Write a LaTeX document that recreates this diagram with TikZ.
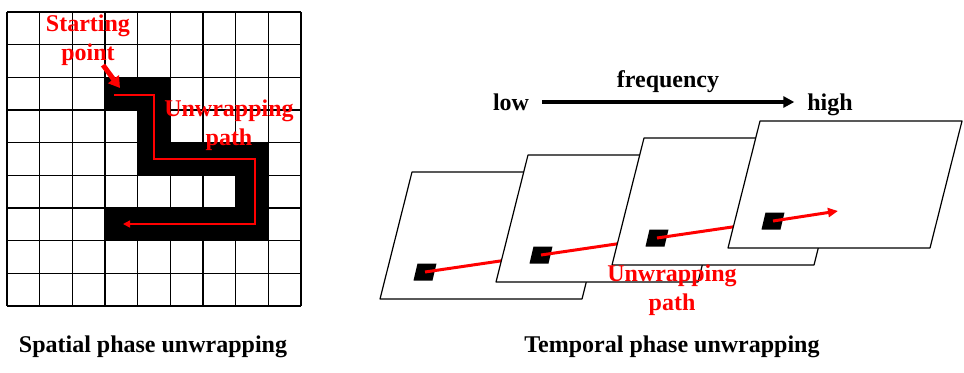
\documentclass[tikz,border=0pt]{standalone}
\usepackage{fontspec}
\setmainfont{Liberation Serif}
\usetikzlibrary{arrows.meta,calc}

\begin{document}
\begin{tikzpicture}
      [x=0.5pt, y=-0.5pt,
      label style/.style={font=\fontsize{12}{14.5}\selectfont\bfseries, align=center, inner sep=2pt},
      red label/.style={label style, text=red},
      grid line/.style={draw, line width=0.75pt},
      plane style/.style={draw, fill=white, line width=0.6pt, line join=round},
      path arrow/.style={draw=red, line width=0.75pt, -{Triangle[length=3.5pt,width=3.5pt]}},
      start arrow/.style={draw=red, line width=2.5pt, -{Triangle[length=5.5pt,width=6.5pt]}},
      link style/.style={draw=red, line width=1.5pt},
      freq arrow/.style={draw, line width=1.75pt, -{Triangle[length=5.5pt,width=5.5pt]}},
      ]
      \useasboundingbox (0,0) rectangle (964,372);

      % spatial
      \foreach \c/\r in {3/2,4/2,4/3,4/4,5/4,6/4,7/4,7/5,3/6,4/6,5/6,6/6,7/6}
        \fill ({7+32.67*\c},{12+32.67*\r}) rectangle ++(32.67,32.67);
      \foreach \k in {0,...,9} {
        \draw[grid line] ({7+32.67*\k},12) -- ({7+32.67*\k},306);
        \draw[grid line] (7,{12+32.67*\k}) -- (301,{12+32.67*\k});
      }

      \node[red label] (start) at (88,40) {Starting\\point};
      \node[red label] (spath) at (229,125) {Unwrapping\\path};
      \coordinate (s0) at (103,65);
      \coordinate (s1) at (120,88);
      \draw[start arrow] (s0) -- (s1);

      \coordinate (p0) at (114,95);
      \coordinate (p1) at (154,159);
      \coordinate (p2) at (255,224);
      \coordinate (p3) at (123,224);
      \draw[path arrow] (p0) -| (p1) -| (p2) -- (p3);

      \node[label style, anchor=base] (spatial) at (153,352) {Spatial phase unwrapping};

      % temporal
      \node[label style, anchor=base] (low) at (511,110) {low};
      \node[label style, anchor=base] (high) at (830,110) {high};
      \node[label style, anchor=base] (freq) at (668,87) {frequency};
      \draw[freq arrow, shorten <=4.5pt, shorten >=4.3pt]
        ($(low.base east)+(0,-8)$) -- ($(high.base west)+(0,-8)$);

      \coordinate (b0) at (380,299);
      \coordinate (b1) at (496,282);
      \coordinate (b2) at (612,265);
      \coordinate (b3) at (728,248);
      \coordinate (c0) at (425,272);
      \coordinate (c1) at (541,255);
      \coordinate (c2) at (657,238);
      \coordinate (c3) at (773,221);
      \coordinate (tip) at (838,211);

      \draw[plane style] (b0) -- ++(202,0) -- ++(32,-127) -- ++(-202,0) -- cycle;
      \fill[shift={(c0)}] (-11.5,8.5) -- (7.5,8.5) -- (11.5,-8.5) -- (-7.5,-8.5) -- cycle;
      \draw[link style] (c0) -- (c1);
      \draw[plane style] (b1) -- ++(202,0) -- ++(32,-127) -- ++(-202,0) -- cycle;
      \fill[shift={(c1)}] (-11.5,8.5) -- (7.5,8.5) -- (11.5,-8.5) -- (-7.5,-8.5) -- cycle;
      \draw[link style] (c1) -- (c2);
      \draw[plane style] (b2) -- ++(202,0) -- ++(32,-127) -- ++(-202,0) -- cycle;
      \fill[shift={(c2)}] (-11.5,8.5) -- (7.5,8.5) -- (11.5,-8.5) -- (-7.5,-8.5) -- cycle;
      \draw[link style] (c2) -- (c3);
      \draw[plane style] (b3) -- ++(202,0) -- ++(32,-127) -- ++(-202,0) -- cycle;
      \fill[shift={(c3)}] (-11.5,8.5) -- (7.5,8.5) -- (11.5,-8.5) -- (-7.5,-8.5) -- cycle;
      \draw[link style, -{Triangle[length=5pt,width=4.5pt]}] (c3) -- (tip);

      \node[red label] (tpath) at (672,290) {Unwrapping\\path};
      \node[label style, anchor=base] (temporal) at (672,352) {Temporal phase unwrapping};
\end{tikzpicture}
\end{document}
